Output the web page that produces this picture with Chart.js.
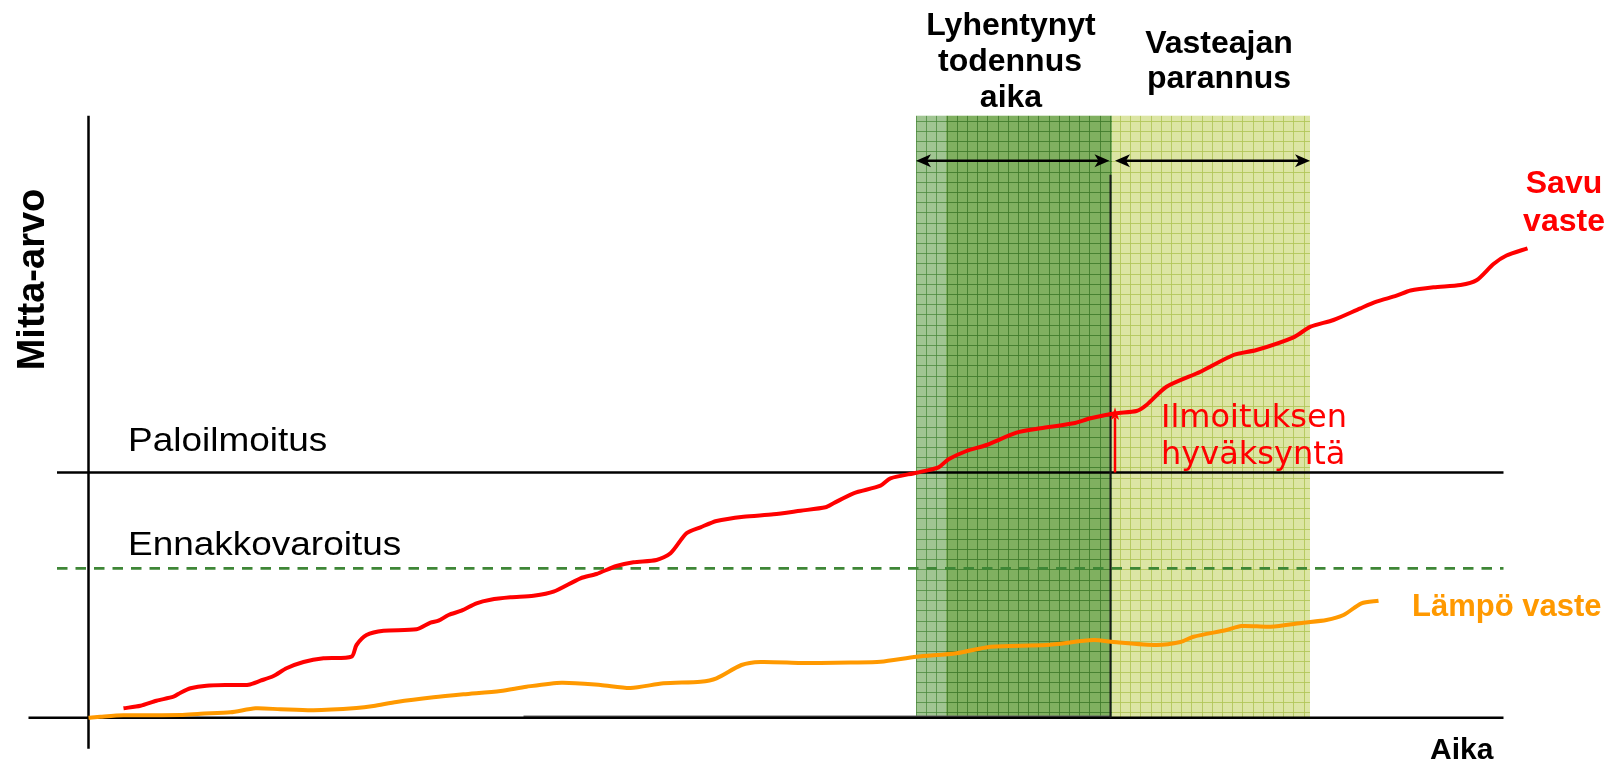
<!DOCTYPE html>
<html>
<head>
<meta charset="utf-8">
<script src="https://cdn.jsdelivr.net/npm/chart.js@4.4.1/dist/chart.umd.min.js"></script>
<style>
  html, body { margin: 0; padding: 0; background: #fff; }
  canvas { display: block; }
</style>
</head>
<body>
<canvas id="chart" width="1612" height="761"></canvas>
<script>
/*
 * Savu- ja lämpövaste ajan funktiona (Mitta-arvo / Aika)
 */

// Savu vaste (red)
var savuAika = [3.5, 5.2, 6.8, 8.5, 9.2, 10.2, 11.8, 14.2, 16.0, 17.2, 18.5, 19.8, 21.5, 23.5, 26.3, 26.8, 27.8, 29.5,
    32.8, 34.2, 35.0, 36.0, 37.3, 38.8, 40.2, 42.2, 44.5, 46.5, 49.2, 50.8, 52.8, 54.5, 56.8, 58.2, 59.8, 61.2,
    62.8, 65.5, 68.5, 71.2, 73.7, 74.5, 76.5, 79.2, 80.2, 82.8, 85.0, 86.0, 87.8, 89.8, 92.8, 95.2, 98.5, 100.2,
    102.7, 104.8, 105.8, 107.8, 111.2, 114.5, 116.8, 120.5, 122.2, 124.5, 127.2, 128.8, 130.8, 132.2, 134.5,
    137.2, 138.8, 140.5, 141.8, 143.9];
var savuArvo = [0.94, 1.2, 1.7, 2.1, 2.5, 2.94, 3.2, 3.27, 3.3, 3.7, 4.17, 4.94, 5.57, 5.94, 6.1, 7.27, 8.27, 8.7,
    8.84, 9.5, 9.7, 10.27, 10.7, 11.44, 11.8, 12.04, 12.2, 12.6, 13.94, 14.37, 15.17, 15.54, 15.77, 16.44, 18.44, 19.04,
    19.67, 20.1, 20.34, 20.7, 21.04, 21.44, 22.44, 23.2, 23.94, 24.5, 25.04, 25.84, 26.67, 27.27, 28.5, 28.94, 29.44, 29.94,
    30.44, 30.67, 31.27, 33.1, 34.6, 36.27, 36.77, 38.04, 39.1, 39.77, 40.94, 41.6, 42.2, 42.72, 43.05,
    43.27, 43.74, 45.37, 46.22, 46.94];

// Lämpö vaste (orange)
var lampoAika = [0, 1.2, 3.5, 9.2, 11.2, 14.2, 16.7, 19.2, 22.5, 26.8, 28.5, 30.8, 34.5, 37.5, 41.2, 43.8, 47.3,
    51.2, 54.2, 57.5, 61.2, 62.8, 65.3, 67.2, 71.2, 73.2, 76.2, 79.2, 82.8, 86.8, 90.2, 95.8, 100.5, 102.5,
    106.8, 109.2, 110.5, 113.8, 115.3, 118.2, 121.5, 123.8, 125.5, 127.3, 129.0];
var lampoArvo = [0, 0.1, 0.24, 0.27, 0.4, 0.54, 0.94, 0.84, 0.74, 0.97, 1.17, 1.57, 2.04, 2.34, 2.67, 3.1, 3.5,
    3.27, 2.97, 3.44, 3.6, 3.94, 5.27, 5.57, 5.47, 5.47, 5.52, 5.6, 6.1, 6.44, 7.1, 7.27, 7.77, 7.57,
    7.27, 7.57, 8.1, 8.77, 9.17, 9.1, 9.5, 9.77, 10.27, 11.44, 11.7];

// Hälytysrajat
var paloilmoitusRaja = 24.52;
var ennakkovaroitusRaja = 14.94;

// Aikavälit: vaalea vihreä | tumma vihreä | kelta-vihreä
var vyohykkeet = [82.75, 85.75, 102.35, 122.15];
var hyvaksyntaAika = 102.65;
var hyvaksyntaArvo = 30.44;
var todennusLoppu = 102.2;
var todennusYla = 54.3;
var nuoliTaso = 55.7;
var raja_alku = -3.15;
var akseliLoppu = 141.5;
var varjoAlku = 43.5;

function toPoints(xs, ys) {
    return xs.map(function (x, i) { return { x: x, y: ys[i] }; });
}

function drawBand(ctx, x0, x1, y0, y1, fill, grid, gx0) {
    ctx.save();
    ctx.fillStyle = fill;
    ctx.fillRect(x0, y0, x1 - x0, y1 - y0);
    ctx.beginPath();
    ctx.rect(x0, y0, x1 - x0, y1 - y0);
    ctx.clip();
    ctx.strokeStyle = grid;
    ctx.lineWidth = 1;
    ctx.beginPath();
    var step = 10.2;
    for (var gx = gx0; gx <= x1 + 1; gx += step) {
        ctx.moveTo(Math.round(gx) + 0.5, y0);
        ctx.lineTo(Math.round(gx) + 0.5, y1);
    }
    for (var gy = y0 + 5; gy <= y1 + 1; gy += step) {
        ctx.moveTo(x0, Math.round(gy) + 0.5);
        ctx.lineTo(x1, Math.round(gy) + 0.5);
    }
    ctx.stroke();
    ctx.restore();
}

function hLine(ctx, x0, x1, y, color, width, dash) {
    ctx.save();
    ctx.strokeStyle = color;
    ctx.lineWidth = width;
    ctx.setLineDash(dash || []);
    ctx.beginPath();
    ctx.moveTo(x0, y);
    ctx.lineTo(x1, y);
    ctx.stroke();
    ctx.restore();
}

function arrowHead(ctx, x, y, dir) {
    // dir: -1 = points left, 1 = points right
    ctx.beginPath();
    ctx.moveTo(x, y);
    ctx.lineTo(x - dir * 15, y - 6.5);
    ctx.lineTo(x - dir * 11, y);
    ctx.lineTo(x - dir * 15, y + 6.5);
    ctx.closePath();
    ctx.fill();
}

function doubleArrow(ctx, x0, x1, y) {
    ctx.save();
    ctx.strokeStyle = '#000';
    ctx.fillStyle = '#000';
    ctx.lineWidth = 2.5;
    ctx.beginPath();
    ctx.moveTo(x0 + 4, y);
    ctx.lineTo(x1 - 4, y);
    ctx.stroke();
    arrowHead(ctx, x0, y, -1);
    arrowHead(ctx, x1, y, 1);
    ctx.restore();
}

function stretchedText(ctx, text, x, y, sx) {
    ctx.save();
    ctx.translate(x, y);
    ctx.scale(sx, 1);
    ctx.fillText(text, 0, 0);
    ctx.restore();
}

var sketchPlugin = {
    id: 'sketch',
    beforeDatasetsDraw: function (chart) {
        var ctx = chart.ctx;
        var xs = chart.scales.x, ys = chart.scales.y;
        var X = function (v) { return xs.getPixelForValue(v); };
        var Y = function (v) { return ys.getPixelForValue(v); };
        var top = chart.chartArea.top, base = Y(0);
        var gx0 = X(vyohykkeet[0]);

        drawBand(ctx, X(vyohykkeet[0]), X(vyohykkeet[1]), top, base, '#a0c592', 'rgba(72,135,58,0.75)', gx0);
        drawBand(ctx, X(vyohykkeet[1]), X(vyohykkeet[2]), top, base, '#80b060', 'rgba(62,122,42,0.85)', gx0);
        drawBand(ctx, X(vyohykkeet[2]), X(vyohykkeet[3]), top, base, '#dce5a4', 'rgba(176,198,88,0.85)', gx0);

        // threshold lines
        hLine(ctx, X(raja_alku), X(akseliLoppu), Y(paloilmoitusRaja), '#000', 2.5);
        hLine(ctx, X(raja_alku), X(akseliLoppu), Y(ennakkovaroitusRaja), '#3e8636', 2.8, [10.5, 8]);

        // axes
        hLine(ctx, X(varjoAlku), X(todennusLoppu), base - 1.2, '#666', 2);
        hLine(ctx, chart.chartArea.left, X(akseliLoppu), base, '#000', 2.5);
        ctx.save();
        ctx.strokeStyle = '#000';
        ctx.lineWidth = 2.5;
        ctx.beginPath();
        ctx.moveTo(X(0), top);
        ctx.lineTo(X(0), Y(ys.min) - 1);
        ctx.stroke();

        // end of the shortened verification time
        ctx.lineWidth = 2;
        ctx.strokeStyle = '#1a1a1a';
        ctx.beginPath();
        ctx.moveTo(X(todennusLoppu), Y(todennusYla));
        ctx.lineTo(X(todennusLoppu), base);
        ctx.stroke();
        ctx.restore();

        doubleArrow(ctx, X(vyohykkeet[0]), X(todennusLoppu) - 1, Y(nuoliTaso));
        doubleArrow(ctx, X(hyvaksyntaAika), X(vyohykkeet[3]), Y(nuoliTaso));
    },
    afterDatasetsDraw: function (chart) {
        var ctx = chart.ctx;
        var xs = chart.scales.x, ys = chart.scales.y;
        var X = function (v) { return xs.getPixelForValue(v); };
        var Y = function (v) { return ys.getPixelForValue(v); };

        // acceptance arrow (red)
        var ax = X(hyvaksyntaAika), ay = Y(hyvaksyntaArvo);
        ctx.save();
        ctx.strokeStyle = '#ff0000';
        ctx.fillStyle = '#ff0000';
        ctx.lineWidth = 2.5;
        ctx.beginPath();
        ctx.moveTo(ax, Y(paloilmoitusRaja));
        ctx.lineTo(ax, ay + 4);
        ctx.stroke();
        ctx.beginPath();
        for (var i = 0; i < 10; i++) {
            var r = i % 2 === 0 ? 7 : 2.6;
            var a = -Math.PI / 2 + i * Math.PI / 5;
            var px = ax + r * Math.cos(a), py = ay + 1 + r * Math.sin(a);
            if (i === 0) ctx.moveTo(px, py); else ctx.lineTo(px, py);
        }
        ctx.closePath();
        ctx.fill();
        ctx.restore();

        // texts
        ctx.save();
        ctx.textBaseline = 'alphabetic';
        ctx.fillStyle = '#000';
        ctx.font = 'bold 32px "Liberation Sans", Arial, sans-serif';
        ctx.textAlign = 'center';
        ctx.fillText('Lyhentynyt', 1011, 35);
        ctx.fillText('todennus', 1010, 71);
        ctx.fillText('aika', 1011, 107);
        ctx.fillText('Vasteajan', 1219, 53);
        ctx.fillText('parannus', 1219, 88);

        ctx.save();
        ctx.translate(44, 279.5);
        ctx.rotate(-Math.PI / 2);
        ctx.font = 'bold 38px "Liberation Sans", Arial, sans-serif';
        ctx.fillText('Mitta-arvo', 0, 0);
        ctx.restore();

        ctx.textAlign = 'left';
        ctx.font = '33px "Liberation Sans", Arial, sans-serif';
        stretchedText(ctx, 'Paloilmoitus', 128, 451, 1.12);
        stretchedText(ctx, 'Ennakkovaroitus', 128, 555, 1.12);

        ctx.font = 'bold 30px "Liberation Sans", Arial, sans-serif';
        ctx.fillText('Aika', 1430, 759);

        ctx.fillStyle = '#ff0000';
        ctx.font = '32px "DejaVu Sans", Verdana, sans-serif';
        ctx.fillText('Ilmoituksen', 1161, 427);
        ctx.fillText('hyväksyntä', 1161, 464);

        ctx.textAlign = 'center';
        ctx.font = 'bold 32px "Liberation Sans", Arial, sans-serif';
        ctx.fillText('Savu', 1564, 193);
        ctx.fillText('vaste', 1564, 231);

        ctx.textAlign = 'left';
        ctx.fillStyle = '#ff9900';
        ctx.font = 'bold 31px "Liberation Sans", Arial, sans-serif';
        ctx.fillText('Lämpö vaste', 1412, 616);
        ctx.restore();
    }
};

var ctx = document.getElementById('chart').getContext('2d');
var chart = new Chart(ctx, {
    type: 'line',
    data: {
        datasets: [{
            label: 'Savu vaste',
            data: toPoints(savuAika, savuArvo),
            borderColor: '#ff0000',
            borderWidth: 4,
            pointRadius: 0,
            tension: 0.25,
            fill: false,
            clip: false
        }, {
            label: 'Lämpö vaste',
            data: toPoints(lampoAika, lampoArvo),
            borderColor: '#ff9900',
            borderWidth: 4,
            pointRadius: 0,
            tension: 0.25,
            fill: false,
            clip: false
        }]
    },
    options: {
        responsive: false,
        animation: false,
        devicePixelRatio: 1,
        layout: {
            padding: { left: 28.5, right: 63.5, top: 115.7, bottom: 11.3 }
        },
        scales: {
            x: { type: 'linear', min: -6, max: 146, display: false },
            y: { type: 'linear', min: -3.2, max: 60.2, display: false }
        },
        plugins: {
            legend: { display: false },
            tooltip: { enabled: false }
        }
    },
    plugins: [sketchPlugin]
});
</script>
</body>
</html>
